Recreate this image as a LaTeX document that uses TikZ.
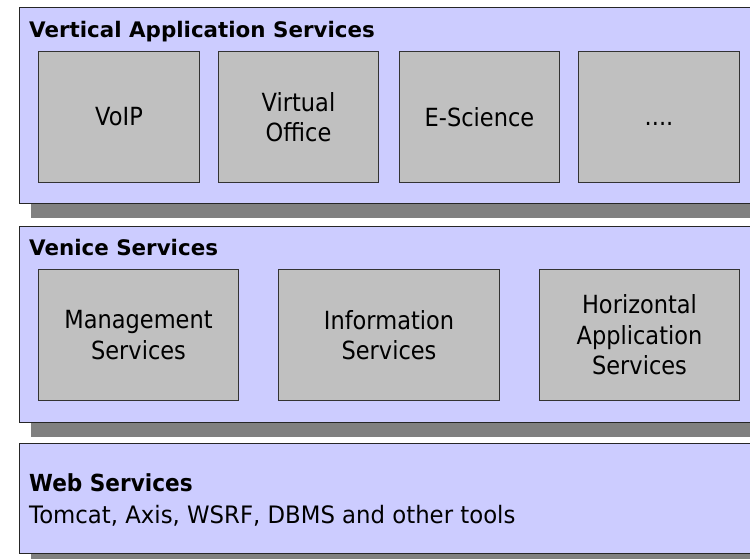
\documentclass[tikz,border=0pt]{standalone}
\usepackage{fontspec}
\setmainfont{DejaVu Sans}
\newfontfamily\boxfont[FakeStretch=0.9]{DejaVu Sans}
\newfontfamily\webfont[FakeStretch=0.92]{DejaVu Sans}
\newfontfamily\webfontb[FakeStretch=0.95]{DejaVu Sans}
\usetikzlibrary{shadows}
\definecolor{panelfill}{HTML}{CCCCFF}
\definecolor{shadowgray}{HTML}{808080}
\definecolor{boxfill}{HTML}{C0C0C0}
\definecolor{boxline}{HTML}{333333}
\tikzset{
  panel/.style={draw=black!85, fill=panelfill, line width=1pt, anchor=north west, inner sep=0pt,
    minimum width=740pt,
    drop shadow={shadow xshift=11pt, shadow yshift=-14pt, fill=shadowgray, opacity=1}},
  svcbox/.style={draw=boxline, fill=boxfill, line width=1pt, anchor=north west, inner sep=0pt,
    minimum height=131pt, align=center, text=black,
    font=\boxfont\fontsize{25}{30.5}\selectfont},
  title/.style={anchor=base west, inner sep=0pt, text=black,
    font=\bfseries\fontsize{21.4}{25}\selectfont},
}
\begin{document}
\begin{tikzpicture}[x=1pt,y=-1pt]
\useasboundingbox (0,0) rectangle (750,558);
\clip (0,0) rectangle (750,558);
\fill[white] (0,0) rectangle (750,558);
% panels
\node[panel, minimum height=196pt] (p1) at (19,7) {};
\node[panel, minimum height=196pt] (p2) at (19,226) {};
\node[panel, minimum height=110pt] (p3) at (19,443) {};
% titles
\node[title] (t1) at (29,37) {Vertical Application Services};
\node[title] (t2) at (29,255) {Venice Services};
\node[anchor=base west, inner sep=0pt, font=\webfont\bfseries\fontsize{23.5}{28}\selectfont] (t3) at (29,491) {Web Services};
\node[anchor=base west, inner sep=0pt, font=\webfontb\fontsize{24}{28}\selectfont] (t4) at (29,523) {Tomcat, Axis, WSRF, DBMS and other tools};
% row 1
\node[svcbox, minimum width=161pt] (voip) at (38,51) {VoIP};
\node[svcbox, minimum width=160pt] (vo) at (218,51) {Virtual\\Office};
\node[svcbox, minimum width=160pt] (es) at (399,51) {E-Science};
\node[svcbox, minimum width=161pt] (dots) at (578,51) {\vphantom{VoIP}....};
% row 2
\node[svcbox, minimum width=200pt] (ms) at (38,269) {Management\\Services};
\node[svcbox, minimum width=221pt] (is) at (278,269) {Information\\Services};
\node[svcbox, minimum width=200pt] (ha) at (539,269) {Horizontal\\Application\\Services};
\end{tikzpicture}
\end{document}
